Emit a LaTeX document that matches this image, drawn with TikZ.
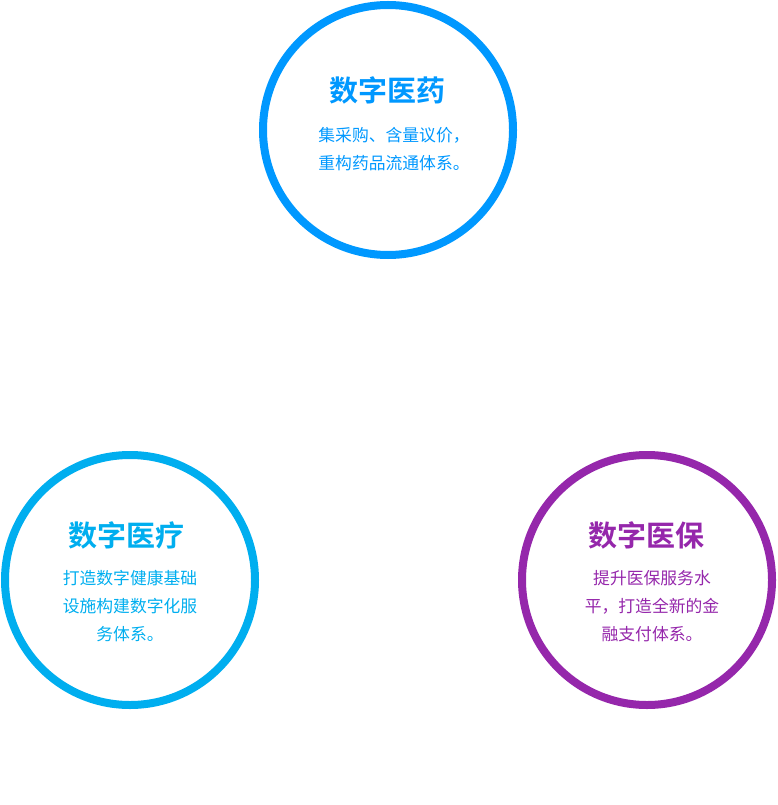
\documentclass[tikz,border=0pt]{standalone}
\usepackage{fontspec}
\newfontfamily\cjk{Noto Sans CJK SC}
\newfontfamily\cjkb{Noto Sans CJK SC Bold}
\definecolor{cA}{HTML}{0098FF}
\definecolor{cB}{HTML}{00AEEF}
\definecolor{cC}{HTML}{9527AB}
\begin{document}
\begin{tikzpicture}[x=1pt,y=-1pt,
  ring/.style={draw=#1,line width=8pt,circle,minimum size=250pt,inner sep=0pt},
  ttl/.style={text=#1,font=\cjkb\fontsize{29}{32}\selectfont},
  body/.style={text=#1,font=\cjk\fontsize{16.8}{28}\selectfont,align=center}]
\useasboundingbox (0,0) rectangle (777,805);
\node[ring=cA] (top) at (388,130) {};
\node[ring=cB] (left) at (130,580) {};
\node[ring=cC] (right) at (647,580) {};
\node[ttl=cA] (t1) at (387,90) {数字医药};
\node[body=cA] (b1) at (394,149) {集采购、含量议价，\\重构药品流通体系。};
\node[ttl=cB] (t2) at (126,535) {数字医疗};
\node[body=cB] (b2) at (130,606) {打造数字健康基础\\设施构建数字化服\\务体系。};
\node[ttl=cC] (t3) at (646,535) {数字医保};
\node[body=cC] (b3) at (652,606) {提升医保服务水\\平，打造全新的金\\融支付体系。};
\end{tikzpicture}
\end{document}
